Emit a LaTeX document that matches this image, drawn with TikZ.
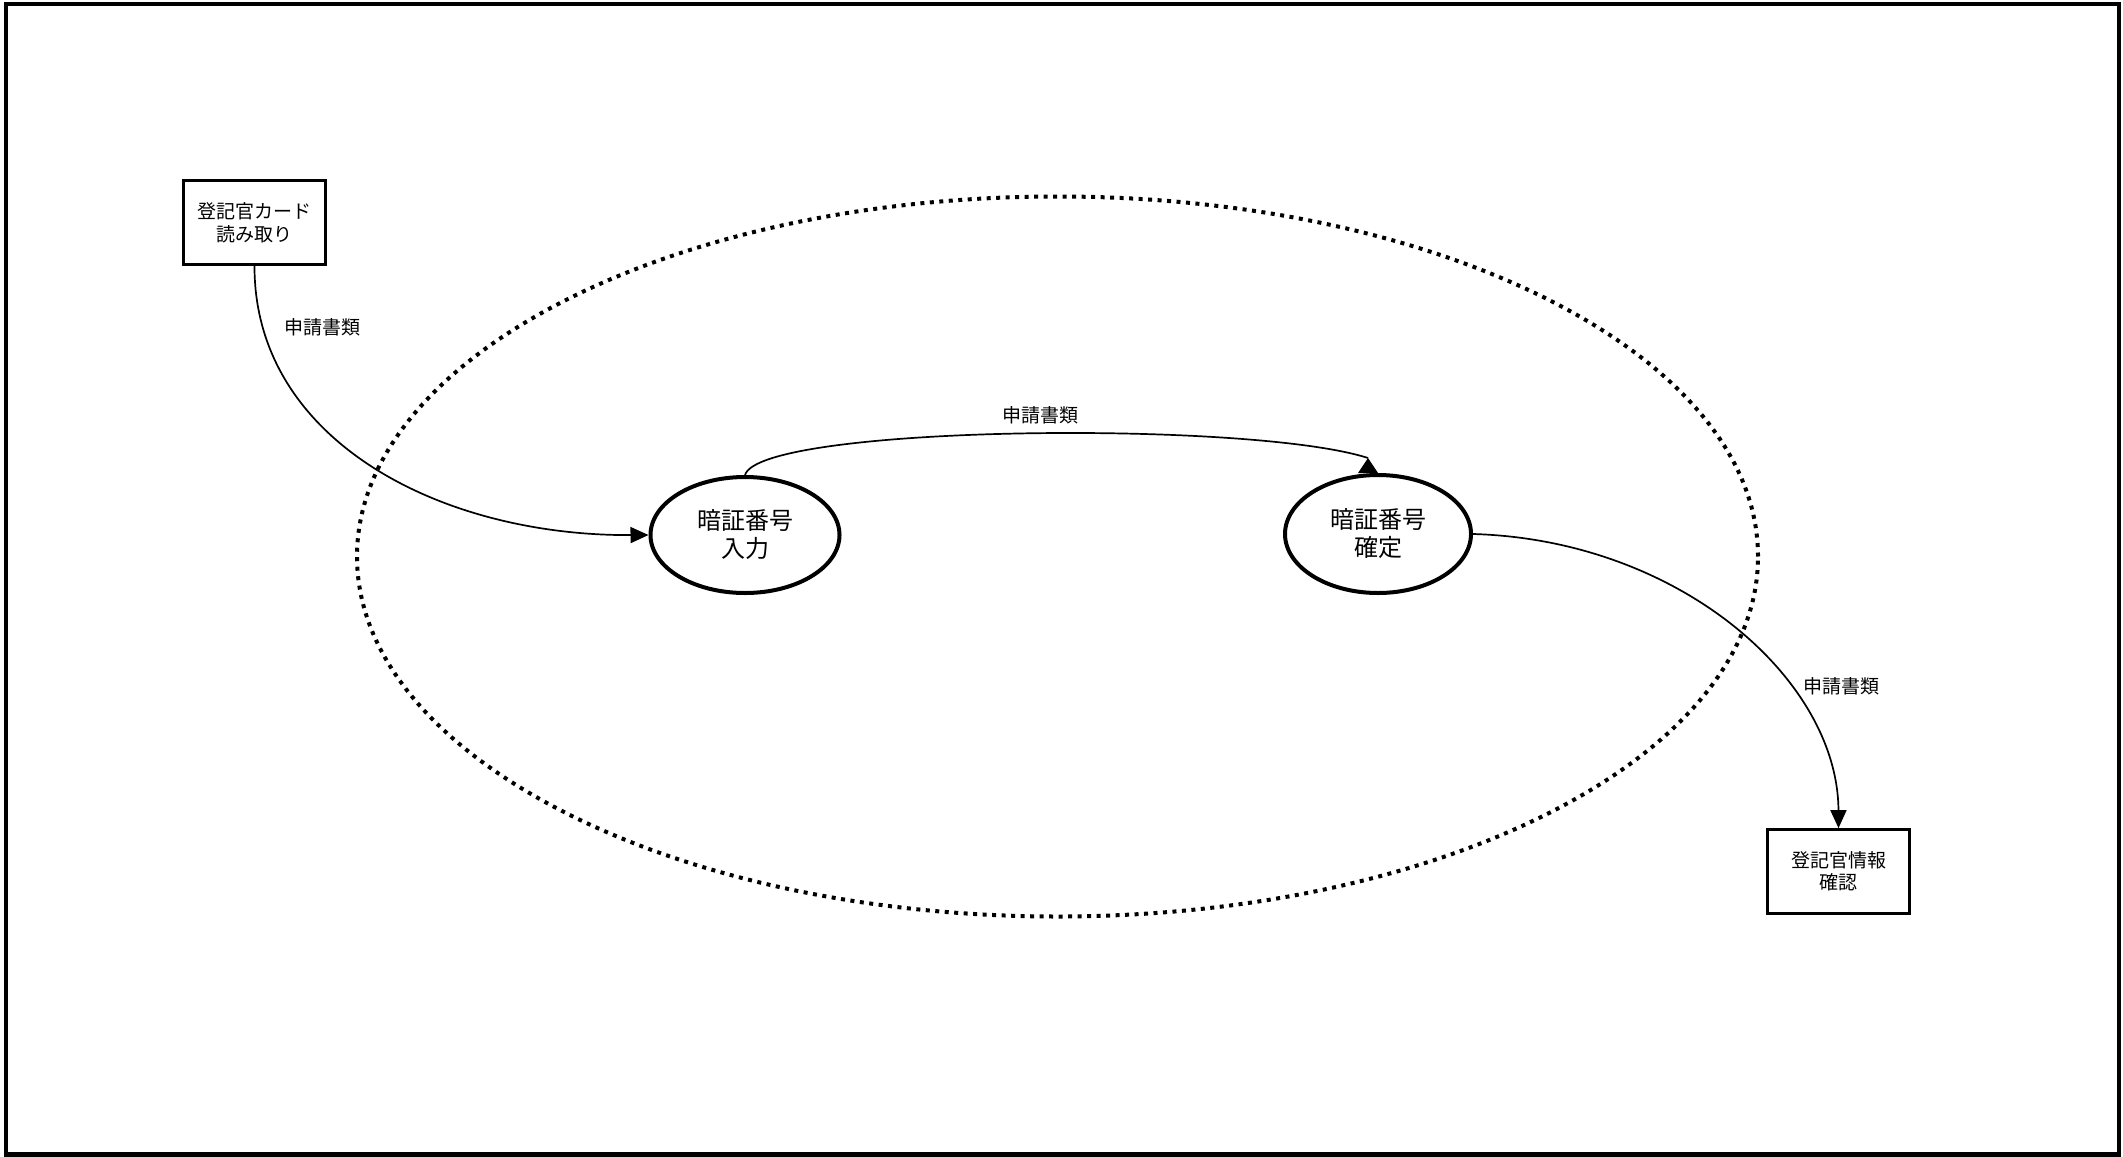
\documentclass[tikz,border=0pt]{standalone}
\usepackage{fontspec}
\setmainfont{Noto Sans CJK JP}
\usetikzlibrary{arrows.meta, shapes.geometric}

\tikzset{
  procbox/.style={draw, line width=1.35pt, minimum width=71pt, minimum height=42pt, inner sep=0pt, align=center, font=\fontsize{9.5pt}{11.5pt}\selectfont},
  procell/.style={draw, ellipse, line width=2pt, inner sep=0pt, align=center, font=\fontsize{12pt}{14pt}\selectfont},
  scopeell/.style={draw, ellipse, line width=2pt, dash pattern=on 2pt off 2.75pt, inner sep=0pt},
  flow/.style={line width=0.85pt},
  flowlabel/.style={inner sep=0pt, font=\fontsize{9.5pt}{11.5pt}\selectfont}
}

\begin{document}
\begin{tikzpicture}[x=0.5pt, y=-0.5pt, >={Triangle[length=9pt,width=8pt]}]
  \useasboundingbox (0,0) rectangle (2123,1156);
  % Rahmen
  \draw[line width=2.25pt] (6,4) rectangle (2119,1154.5);
  % Systemgrenze
  \node[scopeell, minimum width=700.5pt, minimum height=360pt] (scope) at (1057.5,556.5) {};
  % Knoten
  \node[procbox] (card) at (254.5,222.5) {登記官カード\\読み取り};
  \node[procell, minimum width=94.5pt, minimum height=58pt] (pinin) at (745,535) {暗証番号\\入力};
  \node[procell, minimum width=93pt, minimum height=59pt] (pinok) at (1378,534) {暗証番号\\確定};
  \node[procbox, font=\fontsize{9.5pt}{11pt}\selectfont] (check) at (1838.5,871.5) {登記官情報\\確認};
  % Datenfluesse
  \draw[flow,->] (card.south) .. controls (254,440) and (440,536) .. (pinin.west);
  \coordinate (pinokin) at ([xshift=-5pt,yshift=7.5pt]pinok.north);
  \draw[flow] (pinin.north) .. controls (760,425) and (1250,420) .. (pinokin);
  \fill (pinokin) -- ++(-10,15) -- ++(20,0) -- cycle;
  \draw[flow,->] (pinok.east) .. controls (1680,540) and (1838,680) .. (check.north);
  % Beschriftung
  \node[flowlabel] (lab1) at (322,327) {申請書類};
  \node[flowlabel] (lab2) at (1040,415) {申請書類};
  \node[flowlabel] (lab3) at (1841,686) {申請書類};
\end{tikzpicture}
\end{document}
